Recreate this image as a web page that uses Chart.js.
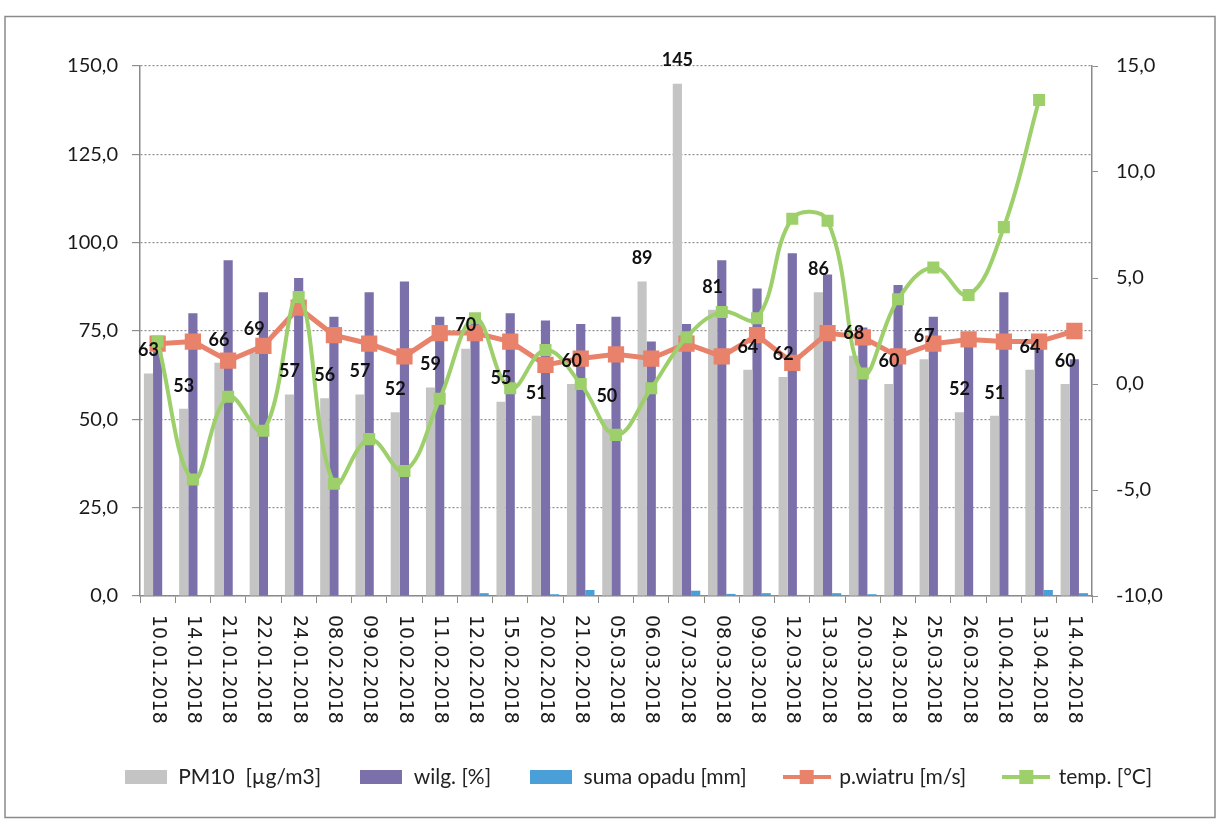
<!DOCTYPE html>
<html><head><meta charset="utf-8">
<script src="https://cdn.jsdelivr.net/npm/chart.js@4.4.1/dist/chart.umd.min.js"></script>
<style>html,body{margin:0;padding:0;background:#fff;}canvas{display:block;}</style>
</head><body>
<canvas id="c" width="1224" height="827" style="width:1224px;height:827px"></canvas>
<script>
const categories = ['10.01.2018','14.01.2018','21.01.2018','22.01.2018','24.01.2018','08.02.2018','09.02.2018','10.02.2018','11.02.2018','12.02.2018','15.02.2018','20.02.2018','21.02.2018','05.03.2018','06.03.2018','07.03.2018','08.03.2018','09.03.2018','12.03.2018','13.03.2018','20.03.2018','24.03.2018','25.03.2018','26.03.2018','10.04.2018','13.04.2018','14.04.2018'];
const pm10  = [63,53,66,69,57,56,57,52,59,70,55,51,60,50,89,145,81,64,62,86,68,60,67,52,51,64,60];
const wilg  = [72,80,95,86,90,79,86,89,79,79,80,78,77,79,72,77,95,87,97,91,76,88,79,72,86,70,67];
const opad  = [0,0,0.3,0,0,0,0,0,0,0.8,0,0.5,1.7,0,0,1.5,0.6,0.8,0.3,0.8,0.5,0,0,0,0,1.7,0.8];
const wiatr = [1.9,2.0,1.1,1.8,3.6,2.3,1.9,1.3,2.4,2.4,2.0,0.9,1.2,1.4,1.2,1.9,1.3,2.3,1.0,2.4,2.2,1.3,1.9,2.1,2.0,2.0,2.5];
const temp  = [2.0,-4.5,-0.6,-2.2,4.1,-4.7,-2.6,-4.1,-0.7,3.1,-0.2,1.6,0.0,-2.4,-0.2,2.2,3.4,3.1,7.8,7.7,0.5,4.0,5.5,4.2,7.4,13.4,null];
const leftTicks  = {min: 0, max: 150, step: 25};
const rightTicks = {min: -10, max: 15, step: 5};

const C_PM = '#c4c4c4', C_WILG = '#7b70aa', C_OPAD = '#4a9fd8', C_WIATR = '#e8826b', C_TEMP = '#9dcf6b';
const fmt = v => Number(v).toFixed(1).replace('.', ',');

function boxImg(color) {
  const c = document.createElement('canvas'); c.width = 42; c.height = 14;
  const g = c.getContext('2d'); g.fillStyle = color; g.fillRect(0, 0, 42, 14); return c;
}
function lineImg(color) {
  const c = document.createElement('canvas'); c.width = 48; c.height = 16;
  const g = c.getContext('2d'); g.fillStyle = color; g.fillRect(0, 6, 48, 4); g.fillRect(17, 1, 14, 14); return c;
}
const legendImgs = [boxImg(C_PM), boxImg(C_WILG), boxImg(C_OPAD), lineImg(C_WIATR), lineImg(C_TEMP)];

const framePlugin = {
  id: 'frame',
  beforeDraw(chart) {
    const ctx = chart.ctx; ctx.save();
    ctx.strokeStyle = '#8a8a8a'; ctx.lineWidth = 1.5;
    ctx.strokeRect(5, 16.5, 1210, 801);
    ctx.restore();
  }
};
const legendShift = {
  id: 'legendShift',
  afterLayout(chart) {
    if (chart.legend) { chart.legend.left += 26; chart.legend.right += 26; }
  }
};
const xLabelPlugin = {
  id: 'xlabels',
  afterDraw(chart) {
    const sx = chart.scales.x, ctx = chart.ctx;
    ctx.save();
    ctx.font = '19px "DejaVu Sans"'; ctx.fillStyle = '#1a1a1a';
    ctx.textAlign = 'left'; ctx.textBaseline = 'middle';
    categories.forEach((lab, i) => {
      ctx.save(); ctx.translate(sx.getPixelForValue(i), sx.top + 19); ctx.rotate(Math.PI / 2);
      ctx.fillText(lab, 0, 0); ctx.restore();
    });
    ctx.restore();
  }
};
const dataLabelPlugin = {
  id: 'dlabels',
  afterDatasetsDraw(chart) {
    const meta = chart.getDatasetMeta(0), ctx = chart.ctx;
    ctx.save();
    ctx.font = 'bold 18px Lato'; ctx.fillStyle = '#111';
    ctx.textAlign = 'center'; ctx.textBaseline = 'middle';
    meta.data.forEach((el, i) => ctx.fillText(String(pm10[i]), el.x, el.y - 23));
    ctx.restore();
  }
};

new Chart(document.getElementById('c'), {
  data: {
    labels: categories,
    datasets: [
      {type: 'bar', label: 'PM10  [µg/m3]', data: pm10, backgroundColor: C_PM, yAxisID: 'y', order: 2},
      {type: 'bar', label: 'wilg. [%]', data: wilg, backgroundColor: C_WILG, yAxisID: 'y', order: 2},
      {type: 'bar', label: 'suma opadu [mm]', data: opad, backgroundColor: C_OPAD, yAxisID: 'y', order: 2},
      {type: 'line', label: 'p.wiatru [m/s]', data: wiatr, borderColor: C_WIATR, backgroundColor: C_WIATR,
       borderWidth: 5, pointStyle: 'rect', pointRadius: 11.5, pointBorderWidth: 0, tension: 0, yAxisID: 'y1', order: 1},
      {type: 'line', label: 'temp. [°C]', data: temp, borderColor: C_TEMP, backgroundColor: C_TEMP,
       borderWidth: 4, pointStyle: 'rect', pointRadius: 8.5, pointBorderWidth: 0, tension: 0.4, yAxisID: 'y1', order: 0}
    ]
  },
  options: {
    responsive: false, animation: false, devicePixelRatio: 1,
    layout: {padding: {top: 66, bottom: 29.5, left: 0, right: 0}},
    datasets: {bar: {categoryPercentage: 0.78, barPercentage: 1.0}},
    plugins: {
      tooltip: {enabled: false},
      legend: {
        position: 'bottom',
        labels: {
          usePointStyle: true, pointStyleWidth: 44, boxHeight: 14, padding: 38,
          font: {family: 'Lato', size: 21}, color: '#222',
          generateLabels: (chart) => chart.data.datasets.map((ds, i) => ({
            text: ds.label, pointStyle: legendImgs[i], datasetIndex: i, hidden: false,
            fillStyle: 'transparent', strokeStyle: 'transparent', lineWidth: 0, fontColor: '#222'
          }))
        }
      }
    },
    scales: {
      x: {
        offset: true,
        ticks: {display: false},
        grid: {offset: true, drawOnChartArea: false, drawTicks: true, tickLength: 7, color: '#8a8a8a', lineWidth: 1},
        border: {display: true, color: '#8a8a8a', width: 1.5},
        afterFit: (s) => { s.height = 132.5; }
      },
      y: {
        position: 'left', min: leftTicks.min, max: leftTicks.max,
        ticks: {stepSize: leftTicks.step, callback: fmt, padding: 14, color: '#1a1a1a', font: {family: 'Lato', size: 20}},
        grid: {color: '#8f8f8f', lineWidth: 1.2, tickLength: 8},
        border: {display: true, color: '#8a8a8a', width: 1.5, dash: [2, 2]},
        afterFit: (s) => { s.width = 140; }
      },
      y1: {
        position: 'right', min: rightTicks.min, max: rightTicks.max,
        ticks: {stepSize: rightTicks.step, callback: fmt, padding: 18, color: '#1a1a1a', font: {family: 'Lato', size: 20}},
        grid: {drawOnChartArea: false, color: '#8f8f8f', tickLength: 6},
        border: {display: true, color: '#8a8a8a', width: 1.5},
        afterFit: (s) => { s.width = 132; }
      }
    }
  },
  plugins: [framePlugin, legendShift, xLabelPlugin, dataLabelPlugin]
});
</script>
</body></html>
